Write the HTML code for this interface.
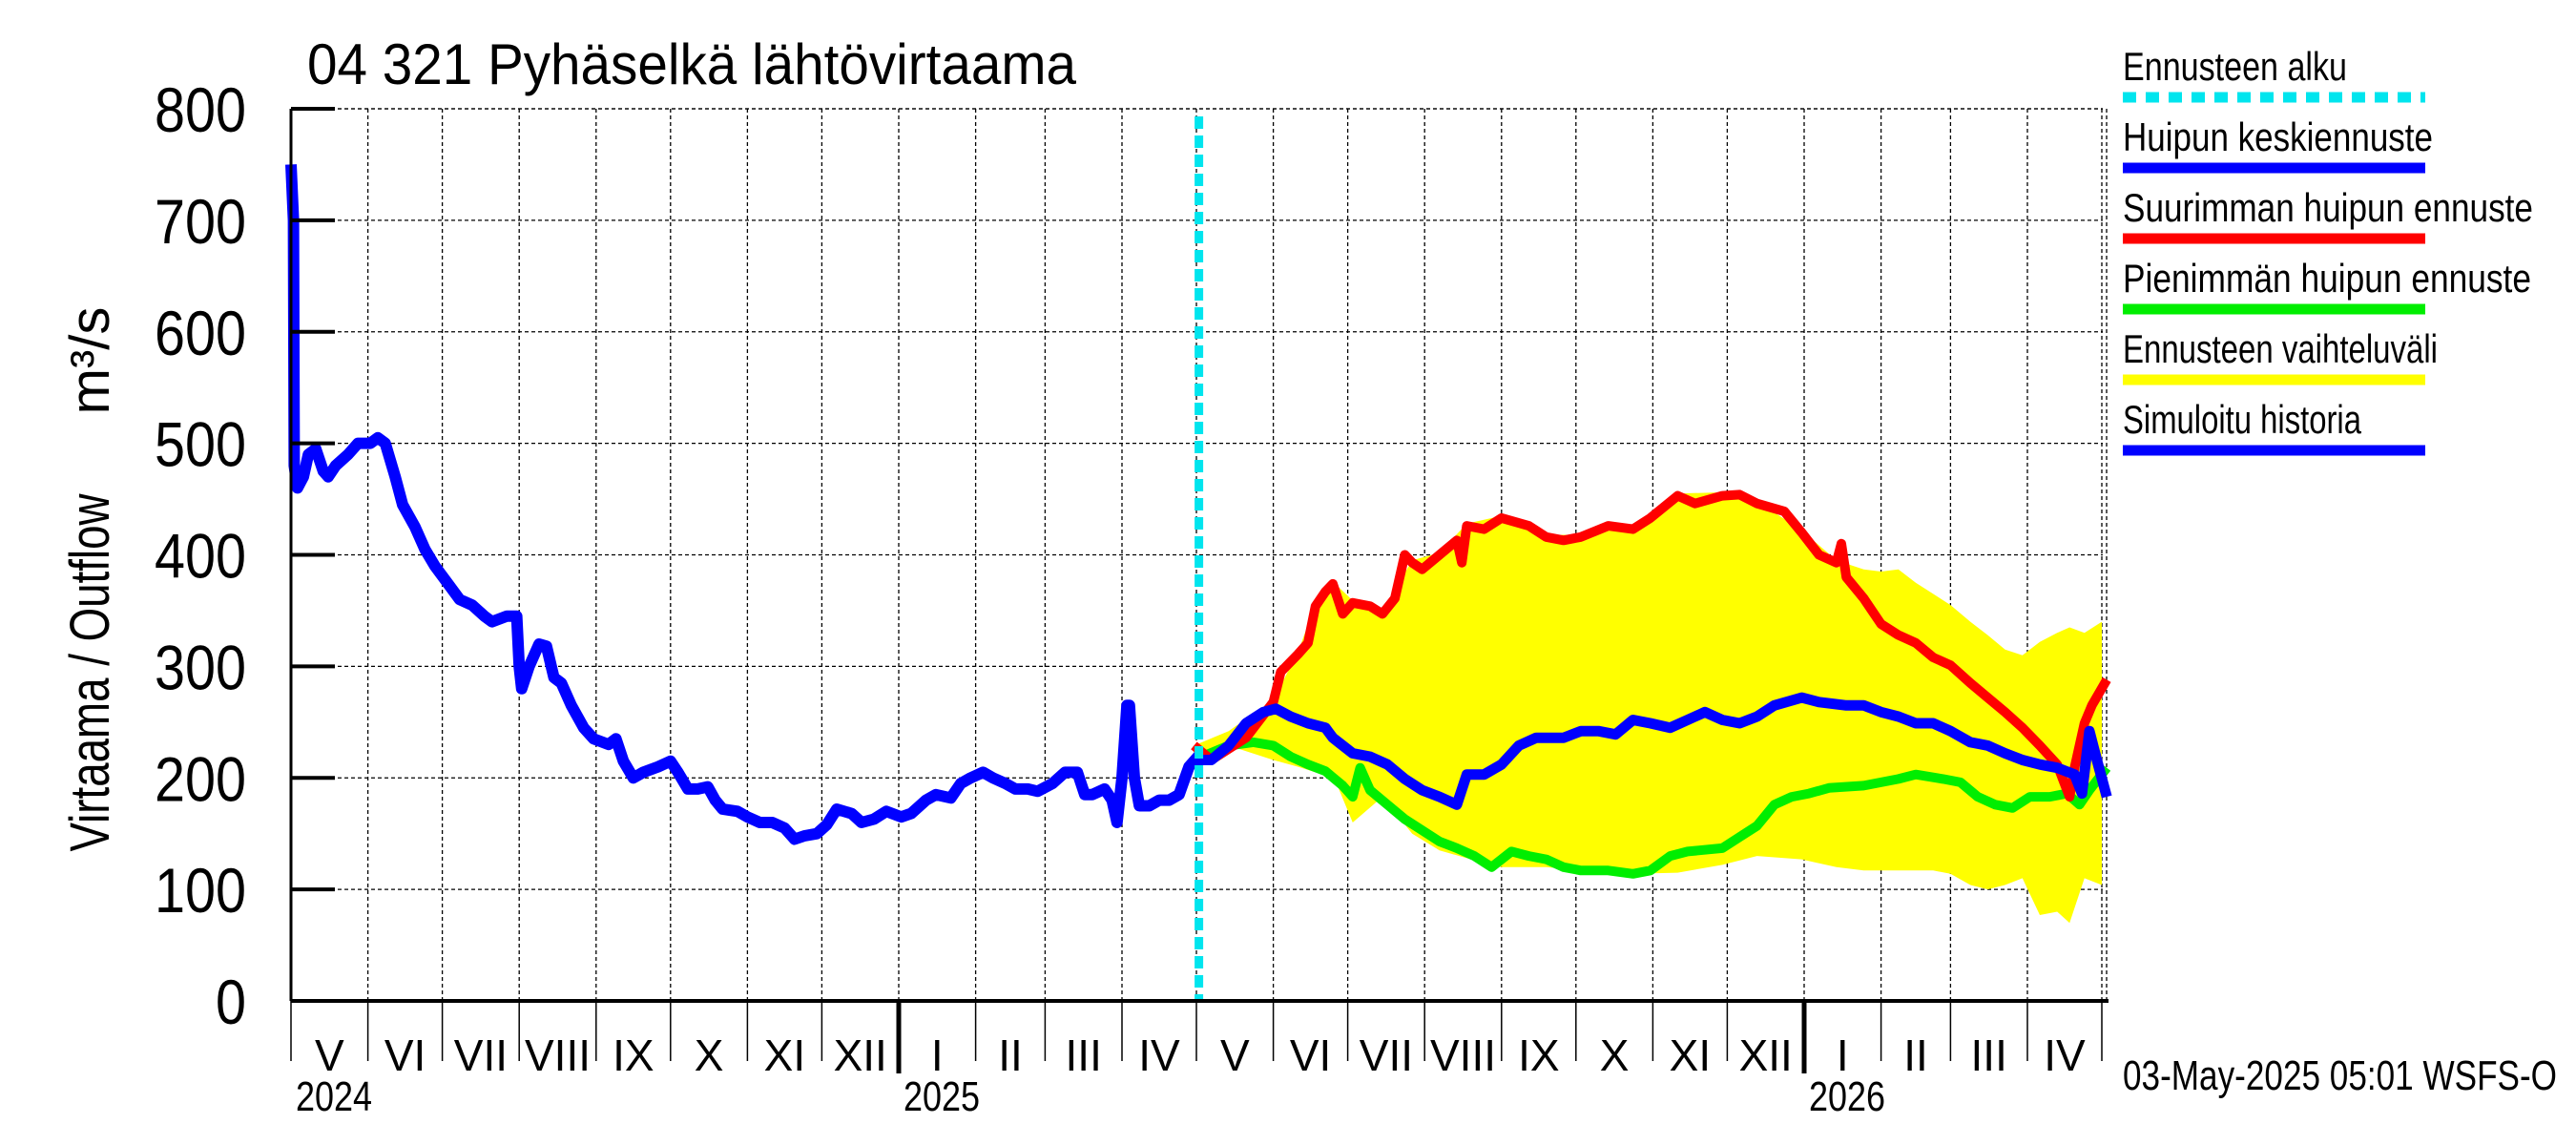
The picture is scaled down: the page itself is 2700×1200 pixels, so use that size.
<!DOCTYPE html>
<html><head><meta charset="utf-8"><style>
html,body{margin:0;padding:0;background:#fff;}
svg{display:block;font-family:"Liberation Sans",sans-serif;}
</style></head><body>
<svg id="chart" width="2700" height="1200" viewBox="0 0 2700 1200" xmlns="http://www.w3.org/2000/svg">
<text x="322" y="88" font-size="60" textLength="806" lengthAdjust="spacingAndGlyphs">04 321 Pyhäselkä lähtövirtaama</text>
<text transform="translate(114,705) rotate(-90)" font-size="58" text-anchor="middle" textLength="375" lengthAdjust="spacingAndGlyphs">Virtaama / Outflow</text>
<text transform="translate(114,378) rotate(-90)" font-size="58" text-anchor="middle">m³/s</text>
<g id="grid"></g>
<g id="series"></g>
<g id="axes"></g>
<g id="legend"></g>
<text x="2225" y="1142" font-size="44" textLength="455" lengthAdjust="spacingAndGlyphs">03-May-2025 05:01 WSFS-O</text>
</svg>
<script>
// ---- data (days since 2024-05-01, values m3/s) ----
const yTicks = [0,100,200,300,400,500,600,700,800];
const monthStarts = [0,31,61,92,123,153,184,214,245,276,304,335,365,396,426,457,488,518,549,579,610,641,669,700,730];
const monthLabels = ["V","VI","VII","VIII","IX","X","XI","XII","I","II","III","IV","V","VI","VII","VIII","IX","X","XI","XII","I","II","III","IV"];
const yearLabels = ["2024","2025","2026"];
const yearDays = [0,245,610];
const forecastStartDay = 366;

const histDays = [0,1,1.3,2.6,5,7,10,13,15,18,23,27,32,35,38,42,45,50,54,58,63,68,73,78,81,87,91,92,93,96,100,103,106,109,113,118,122,128,131,134,138,142,148,153,156,160,164,168,171,174,180,184,189,194,199,203,207,212,216,220,226,230,235,240,246,250,256,260,266,270,274,279,283,288,292,297,301,307,312,317,320,323,328,331,333,335,337,338,340,342,346,350,354,358,362,366];
const histVals = [750,700,480,460,470,490,495,475,470,480,490,500,500,505,500,470,445,425,405,390,375,360,355,345,340,345,345,300,280,300,320,318,290,285,265,245,235,230,235,215,200,205,210,215,205,190,190,192,180,172,170,165,160,160,155,145,148,150,158,172,168,160,163,170,165,168,180,185,182,195,200,205,200,195,190,190,188,195,205,205,185,185,190,180,160,200,265,265,200,175,175,180,180,185,210,220];

const maxDays = [364,371,385,396,399,406,410,413,417,420,424,428,435,440,445,449,452,456,463,470,472,474,481,488,499,506,513,520,531,541,548,559,566,577,584,591,602,609,616,623,625,627,634,641,648,655,662,669,677,684,691,698,705,712,717,719,723,726,732];
const maxVals = [229,216,236,268,295,311,321,354,367,374,347,357,354,347,361,400,393,387,400,413,393,426,423,433,426,416,413,416,426,423,433,453,446,453,454,446,439,420,400,393,410,380,361,338,328,321,308,301,285,272,259,245,229,212,183,209,249,265,288];

const meanDays = [364,371,378,385,392,397,403,410,417,420,428,435,442,449,456,463,470,474,481,488,495,502,513,520,527,534,541,548,556,563,570,577,584,591,598,609,616,627,634,641,648,655,662,669,677,684,691,698,705,712,719,722,725,728,732];
const meanVals = [216,216,229,249,259,262,255,249,245,236,222,219,212,199,189,183,176,203,203,212,229,236,236,242,242,239,252,249,245,252,259,252,249,255,265,272,268,265,265,259,255,249,249,242,232,229,222,216,212,209,203,186,242,216,183];

const minDays = [364,378,388,396,403,410,417,424,428,431,435,442,449,456,463,470,477,484,492,499,506,513,520,531,541,548,556,563,577,584,591,598,605,612,620,634,648,655,666,673,680,687,694,701,709,716,721,725,732];
const minVals = [216,229,232,229,219,212,206,193,183,209,189,176,163,153,143,137,130,120,134,130,127,120,117,117,114,117,130,134,137,147,157,176,183,186,191,193,199,203,199,196,183,176,173,183,183,186,176,189,209];

const bandDays = [364,378,396,406,413,420,428,440,452,463,474,488,506,520,541,559,577,591,609,623,634,641,648,655,662,669,677,684,691,698,705,712,717,723,730];
const bandHigh = [229,242,270,313,356,376,359,350,395,402,428,435,418,418,425,455,456,448,422,395,387,385,387,375,365,355,340,328,315,310,322,330,335,330,340];
const bandLow = [216,229,216,210,205,203,160,183,150,135,128,120,120,117,114,115,122,130,127,120,117,117,117,117,117,114,104,100,104,110,77,80,70,110,104];

const legendLabels = ["Ennusteen alku","Huipun keskiennuste","Suurimman huipun ennuste","Pienimmän huipun ennuste","Ennusteen vaihteluväli","Simuloitu historia"];
const legendLens = [235,325,430,428,330,250];
const legendColors = ["#00e5ee","#0000ff","#ff0000","#00ee00","#ffff00","#0000ff"];

// ---- scales ----
const X0=305, PXD=2.6, Y0=1049, YTOP=114, XR=2204;
const xs = d => X0 + d*PXD;
const ys = v => Y0 - v*(Y0-YTOP)/800;
const NS="http://www.w3.org/2000/svg";
function mk(tag, parent, attrs){const e=document.createElementNS(NS,tag);for(const k in attrs)e.setAttribute(k,attrs[k]);parent.appendChild(e);return e;}
const grid=document.getElementById('grid'), series=document.getElementById('series'), axes=document.getElementById('axes'), legend=document.getElementById('legend');

// grid
yTicks.forEach(v=>{ if(v>0){
  const l=mk('line',grid,{x1:X0,x2:XR,y1:ys(v),y2:ys(v),stroke:'#000','stroke-width':1.3,'stroke-dasharray':'4,3'});
  
  
}});
monthStarts.forEach(d=>{ if(d>0){
  const l=mk('line',grid,{x1:xs(d),x2:xs(d),y1:YTOP,y2:Y0,stroke:'#000','stroke-width':1.3,'stroke-dasharray':'4,3'});
  
  
}});
const topL=mk('line',grid,{x1:X0,x2:XR,y1:YTOP,y2:YTOP,stroke:'#000','stroke-width':1.3,'stroke-dasharray':'4,3'});


const rb=mk('line',grid,{x1:XR+4,x2:XR+4,y1:YTOP,y2:Y0,stroke:'#000','stroke-width':1.3,'stroke-dasharray':'4,3'});



// band
let bp='';
bandDays.forEach((d,i)=>{bp+=(i?'L':'M')+xs(d).toFixed(1)+','+ys(bandHigh[i]).toFixed(1);});
for(let i=bandDays.length-1;i>=0;i--){bp+='L'+xs(bandDays[i]).toFixed(1)+','+ys(bandLow[i]).toFixed(1);}
const band=mk('path',series,{d:bp+'Z',fill:'#ffff00',stroke:'none'});



function line(days,vals,color,w,name){
  const d=days.map((dd,i)=>(i?'L':'M')+xs(dd).toFixed(1)+','+ys(vals[i]).toFixed(1)).join('');
  const p=mk('path',series,{d:d,fill:'none',stroke:color,'stroke-width':w,'stroke-linejoin':'round'});
  
  
}
line(minDays,minVals,'#00ee00',10,'min-peak-forecast-line');
line(maxDays,maxVals,'#ff0000',10,'max-peak-forecast-line');
line(meanDays,meanVals,'#0000ff',11,'mean-peak-forecast-line');
line(histDays,histVals,'#0000ff',12,'simulated-history-line');

const fl=mk('line',series,{x1:xs(forecastStartDay),x2:xs(forecastStartDay),y1:YTOP+8,y2:Y0,stroke:'#00e5ee','stroke-width':9,'stroke-dasharray':'13,7'});



// axes
const ax=mk('line',axes,{x1:X0,x2:X0,y1:YTOP,y2:Y0,stroke:'#000','stroke-width':3});


const bx=mk('line',axes,{x1:X0,x2:XR+6,y1:Y0,y2:Y0,stroke:'#000','stroke-width':4});


yTicks.forEach(v=>{
  const t=mk('line',axes,{x1:X0,x2:X0+46,y1:ys(v),y2:ys(v),stroke:'#000','stroke-width':4});
  
  
  const s=String(v);
  const tx=mk('text',axes,{x:258,y:ys(v)+24,'font-size':66,'text-anchor':'end',textLength:s.length*32,lengthAdjust:'spacingAndGlyphs'});
  tx.textContent=s;
  
  
});
monthStarts.forEach((d,i)=>{
  const isYear=yearDays.indexOf(d)>=0 && d>0;
  const t=mk('line',axes,{x1:xs(d),x2:xs(d),y1:Y0,y2:isYear?1125:1112,stroke:'#000','stroke-width':isYear?5:1.5});
  
  
  if(i<monthLabels.length){
    const tx=mk('text',axes,{x:(xs(d)+xs(monthStarts[i+1]))/2,y:1122,'font-size':46,'text-anchor':'middle'});
    tx.textContent=monthLabels[i];
    
    
  }
});
yearLabels.forEach((y,i)=>{
  const tx=mk('text',axes,{x:xs(yearDays[i])+5,y:1164,'font-size':44,textLength:80,lengthAdjust:'spacingAndGlyphs'});
  tx.textContent=y;
  
  
});

// legend
legendLabels.forEach((lab,i)=>{
  const yb=84+i*74;
  const tx=mk('text',legend,{x:2225,y:yb,'font-size':42,textLength:legendLens[i],lengthAdjust:'spacingAndGlyphs'});
  tx.textContent=lab;
  
  
  const ln=mk('line',legend,{x1:2225,x2:2542,y1:yb+18,y2:yb+18,stroke:legendColors[i],'stroke-width':11});
  if(i===0) ln.setAttribute('stroke-dasharray','14,10');
  
  
});
</script>
</body></html>
